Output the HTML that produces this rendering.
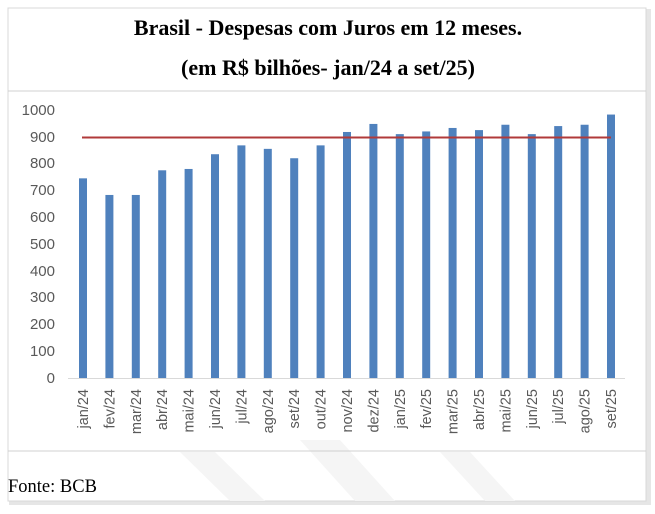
<!DOCTYPE html>
<html><head><meta charset="utf-8"><style>
body{margin:0;background:#fff;width:655px;height:509px;overflow:hidden}
</style></head><body>
<svg width="655" height="509" xmlns="http://www.w3.org/2000/svg">
<rect x="0" y="0" width="655" height="509" fill="#fff"/>
<rect x="9" y="9" width="642" height="496" fill="#e6e6e6"/>
<rect x="8" y="8" width="638" height="493" fill="#fff" stroke="#d8d8d8"/>
<g fill="#f5f5f5">
<polygon points="180,452 215,452 265,501 230,501"/>
<polygon points="300,440 340,440 395,501 355,501"/>
<polygon points="440,452 470,452 515,501 485,501"/>
</g>
<text x="328" y="35" text-anchor="middle" font-family="Liberation Serif,serif" font-weight="bold" font-size="22">Brasil - Despesas com Juros em 12 meses.</text>
<text x="328" y="75" text-anchor="middle" font-family="Liberation Serif,serif" font-weight="bold" font-size="22">(em R$ bilhões- jan/24 a set/25)</text>
<line x1="8" y1="91" x2="646" y2="91" stroke="#d0d0d0"/>
<line x1="8" y1="451" x2="646" y2="451" stroke="#d0d0d0"/>
<g font-family="Liberation Sans,sans-serif" font-size="15" fill="#595959" text-anchor="end">
<text x="55" y="383">0</text><text x="55" y="356">100</text><text x="55" y="329">200</text><text x="55" y="302">300</text><text x="55" y="276">400</text><text x="55" y="249">500</text><text x="55" y="222">600</text><text x="55" y="195">700</text><text x="55" y="168">800</text><text x="55" y="142">900</text><text x="55" y="115">1000</text>
</g>
<line x1="68" y1="378.5" x2="625" y2="378.5" stroke="#d9d9d9"/>
<g fill="#4f81bd" id="bars"></g>
<line x1="82" y1="137.5" x2="611" y2="137.5" stroke="#b03a3a" stroke-width="2"/>
<g id="labels" font-family="Liberation Sans,sans-serif" font-size="14.5" fill="#595959"></g>
<text x="8" y="492" font-family="Liberation Serif,serif" font-size="18.5">Fonte: BCB</text>
</svg>
<script>
var v=[745,683,683,775,780,835,868,855,820,868,918,948,910,920,933,925,945,910,940,945,983];
var l=["jan/24","fev/24","mar/24","abr/24","mai/24","jun/24","jul/24","ago/24","set/24","out/24","nov/24","dez/24","jan/25","fev/25","mar/25","abr/25","mai/25","jun/25","jul/25","ago/25","set/25"];
var ns="http://www.w3.org/2000/svg",b=document.getElementById("bars"),g=document.getElementById("labels");
for(var i=0;i<21;i++){var c=83+i*26.4,h=v[i]*0.268;
var r=document.createElementNS(ns,"rect");r.setAttribute("x",c-4);r.setAttribute("y",378-h);r.setAttribute("width",8);r.setAttribute("height",h);b.appendChild(r);
var t=document.createElementNS(ns,"text");t.setAttribute("text-anchor","end");t.setAttribute("transform","translate("+(c+5)+",389) rotate(-90)");t.textContent=l[i];g.appendChild(t);}
</script>
</body></html>
